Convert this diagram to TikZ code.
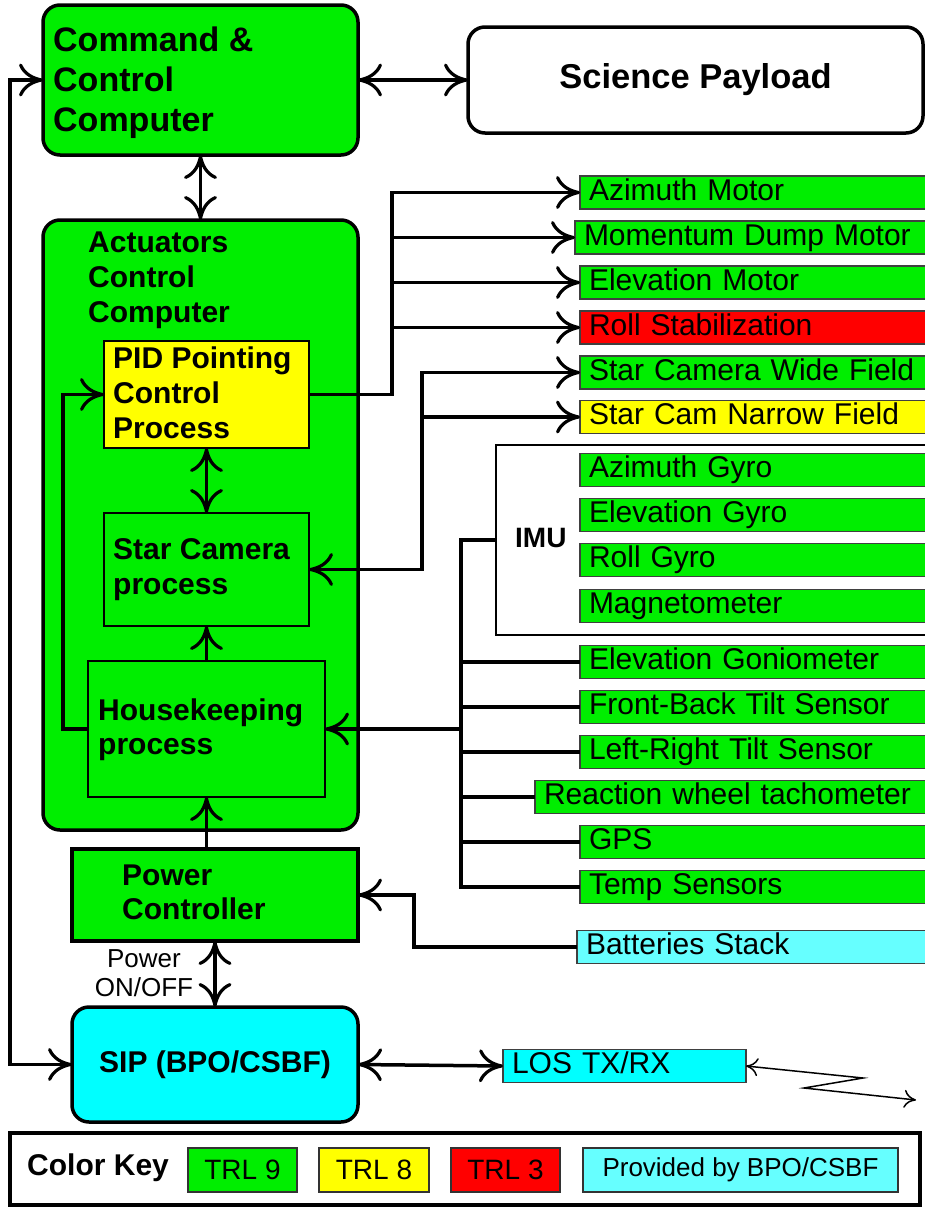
\documentclass[tikz,border=0pt]{standalone}
\usepackage{fontspec}
\setmainfont{Liberation Sans}
\usetikzlibrary{arrows.meta}
\definecolor{trlgreen}{RGB}{0,238,0}
\definecolor{trlyellow}{RGB}{255,255,0}
\definecolor{trlred}{RGB}{255,0,0}
\definecolor{sipcyan}{RGB}{0,255,255}
\definecolor{provcyan}{RGB}{102,255,255}
\tikzset{
  bigtip/.tip={Computer Modern Rightarrow[length=24pt,width=33pt,line width=3.2pt]},
  thintip/.tip={Computer Modern Rightarrow[length=12pt,width=18pt,line width=1.5pt]},
  conn/.style={line width=3.5pt},
  thinconn/.style={line width=1.5pt},
  box/.style={draw=black, outer sep=0pt, inner sep=0pt, anchor=north west},
  bigbox/.style={box, line width=3.5pt},
  roundbox/.style={bigbox, rounded corners=17pt},
  procbox/.style={box, line width=2.5pt},
  boxtext/.style={anchor=north west, inner sep=0pt, align=left, font=\bfseries\fontsize{30}{35}\selectfont},
  item/.style={draw=black!75, line width=1.3pt, anchor=west, outer sep=0pt, inner xsep=9pt, inner ysep=0pt, text height=21.5pt, text depth=6pt, minimum height=33pt, align=left, font=\fontsize{30}{33}\selectfont},
  keybox/.style={draw=black!80, line width=1.3pt, outer sep=0pt, minimum height=44pt, font=\fontsize{28}{32}\selectfont},
}
\begin{document}
\begin{tikzpicture}[x=1pt,y=-1pt,>=bigtip]
\useasboundingbox (0,0) rectangle (925,1208);

% main boxes
\node[roundbox, fill=trlgreen, minimum width=315pt, minimum height=150pt] (ccc) at (43,5) {};
\node[boxtext, font=\bfseries\fontsize{34}{40}\selectfont] (ccct) at (53,27) {Command \&\\Control\\Computer};
\node[roundbox, fill=white, minimum width=455pt, minimum height=106pt, font=\bfseries\fontsize{34.5}{38}\selectfont] (sp) at (468,27) {Science Payload};
\node[roundbox, fill=trlgreen, minimum width=315pt, minimum height=610pt] (acc) at (43,220) {};
\node[boxtext] (acct) at (88,231.5) {Actuators\\Control\\Computer};
\node[procbox, fill=trlyellow, minimum width=205pt, minimum height=107pt] (pid) at (104,341) {};
\node[boxtext] (pidt) at (113,346.5) {PID Pointing\\Control\\Process};
\node[procbox, fill=trlgreen, minimum width=205pt, minimum height=113pt] (scp) at (104,513) {};
\node[boxtext] (scpt) at (113,538.5) {Star Camera\\process};
\node[procbox, fill=trlgreen, minimum width=237pt, minimum height=136pt] (hk) at (88,661) {};
\node[boxtext, font=\bfseries\fontsize{30}{34}\selectfont] (hkt) at (98,698.5) {Housekeeping\\process};
\node[bigbox, fill=trlgreen, minimum width=286pt, minimum height=92pt] (pc) at (72,849) {};
\node[boxtext, font=\bfseries\fontsize{30}{34}\selectfont] (pct) at (122,864.5) {Power\\Controller};
\node[roundbox, fill=sipcyan, minimum width=286pt, minimum height=115pt, font=\bfseries\fontsize{30}{35}\selectfont] (sip) at (72,1007) {SIP (BPO/CSBF)};
\node[box, line width=2pt, fill=white, minimum width=431pt, minimum height=190pt] (imu) at (496,445) {};
\node[anchor=west, inner sep=0pt, font=\bfseries\fontsize{28}{32}\selectfont] (imut) at (515,538) {IMU};
\node[anchor=north, inner sep=0pt, align=center, font=\fontsize{26}{29}\selectfont] (pwrlbl) at (144,949.5) {Power\\ON/OFF};

% right-hand items
\node[item, fill=trlgreen, text width=329pt] (azm) at (580,192.5) {Azimuth Motor};
\node[item, fill=trlgreen, text width=334pt] (mdm) at (575,237.5) {Momentum Dump Motor};
\node[item, fill=trlgreen, text width=329pt] (elm) at (580,282.5) {Elevation Motor};
\node[item, fill=trlred, text width=329pt] (roll) at (580,327.5) {Roll Stabilization};
\node[item, fill=trlgreen, text width=329pt] (scw) at (580,372.5) {Star Camera Wide Field};
\node[item, fill=trlyellow, text width=329pt] (scn) at (580,417) {Star Cam Narrow Field};
\node[item, fill=trlgreen, text width=329pt] (azg) at (580,470) {Azimuth Gyro};
\node[item, fill=trlgreen, text width=329pt] (elg) at (580,515) {Elevation Gyro};
\node[item, fill=trlgreen, text width=329pt] (rg) at (580,560) {Roll Gyro};
\node[item, fill=trlgreen, text width=329pt] (mag) at (580,606) {Magnetometer};
\node[item, fill=trlgreen, text width=329pt] (gon) at (580,662) {Elevation Goniometer};
\node[item, fill=trlgreen, text width=329pt] (fb) at (580,707) {Front-Back Tilt Sensor};
\node[item, fill=trlgreen, text width=329pt] (lr) at (580,752) {Left-Right Tilt Sensor};
\node[item, fill=trlgreen, text width=374pt] (rw) at (535,797) {Reaction wheel tachometer};
\node[item, fill=trlgreen, text width=329pt] (gps) at (580,842) {GPS};
\node[item, fill=trlgreen, text width=329pt] (temp) at (580,887) {Temp Sensors};
\node[item, fill=provcyan, text width=332pt] (bat) at (577,947) {Batteries Stack};
\node[item, fill=sipcyan, text width=225pt] (los) at (503,1066) {LOS TX/RX};

% helper coordinates
\coordinate (busA) at (392,0);
\coordinate (busB) at (422,0);
\coordinate (busC) at (461,0);
\coordinate (loopX) at (63,0);
\coordinate (leftX) at (10,0);
\coordinate (batX) at (414,0);
\coordinate (z1) at (863,1078);
\coordinate (z2) at (804,1088);
\coordinate (z3) at (916,1100);

% connectors
\draw[conn,<->] (ccc.east) -- (sp.west);
\draw[conn,<->] (ccc.south) -- (acc.north);
\draw[conn,<->] (ccc.west) -- (ccc.west -| leftX) -- (sip.west -| leftX) -- (sip.west);
\draw[conn,->] (pid.east) -- (pid.east -| busA) -- (azm.west -| busA) -- (azm.west);
\foreach \t in {mdm,elm,roll} \draw[conn,->] (\t.west -| busA) -- (\t.west);
\draw[conn,<->] (scp.east) -- (scp.east -| busB) -- (scw.west -| busB) -- (scw.west);
\draw[conn,->] (scn.west -| busB) -- (scn.west);
\draw[conn,<->] (pid.south) -- (scp.north);
\draw[conn,->] (hk.north) -- (scp.south);
\draw[conn,->] (hk.west) -- (hk.west -| loopX) -- (pid.west -| loopX) -- (pid.west);
\draw[conn,->] (hk.south |- pc.north) -- (hk.south);
\draw[conn,<->] (pc.south) -- (sip.north);
\draw[conn] (imu.west) -- (imu.west -| busC) -- (temp.west -| busC) -- (temp.west);
\foreach \t in {gon,fb,lr,rw,gps} \draw[conn] (\t.west -| busC) -- (\t.west);
\draw[conn,->] (hk.east -| busC) -- (hk.east);
\draw[conn,->] (bat.west) -- (bat.west -| batX) -- (pc.east -| batX) -- (pc.east);
\draw[conn,<->] (sip.east) -- (los.west);
\draw[thinconn,thintip-thintip] (los.east) -- (z1) -- (z2) -- (z3);

% colour key
\node[box, line width=3.5pt, fill=white, minimum width=910pt, minimum height=72pt] (key) at (10,1133) {};
\node[anchor=west, inner sep=0pt, font=\bfseries\fontsize{30}{34}\selectfont] (keyt) at (27,1168) {Color Key};
\node[keybox, fill=trlgreen, minimum width=109pt] (k9) at (242.5,1170) {TRL 9};
\node[keybox, fill=trlyellow, minimum width=110pt] (k8) at (374,1170) {TRL 8};
\node[keybox, fill=trlred, minimum width=109pt] (k3) at (505.5,1170) {TRL 3};
\node[keybox, fill=provcyan, minimum width=315pt, font=\fontsize{26}{29}\selectfont] (kb) at (740.5,1170) {Provided by BPO/CSBF};
\end{tikzpicture}
\end{document}
